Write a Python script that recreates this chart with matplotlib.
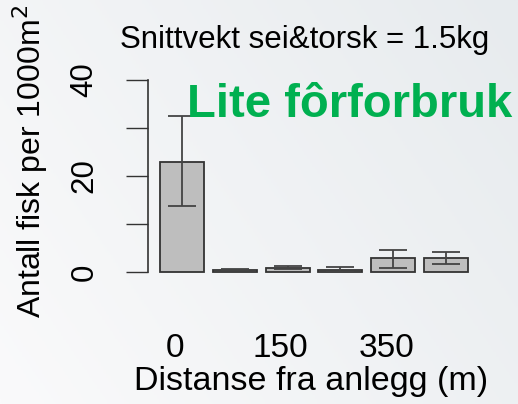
"""Bar chart: Antall fisk per 1000m2 vs distanse fra anlegg (lite fôrforbruk)."""
import numpy as np
import matplotlib
matplotlib.use("Agg")
import matplotlib.pyplot as plt
from matplotlib.colors import LinearSegmentedColormap

# data
means = [22.9, 0.5, 0.9, 0.5, 3.0, 3.0]
err_low = [9.15, 0.15, 0.3, 0.4, 2.2, 1.4]
err_high = [9.6, 0.15, 0.3, 0.45, 1.6, 1.1]
xtick_labels = ["0", "", "150", "", "350", ""]
yticks = [0, 10, 20, 30, 40]
ytick_labels = ["0", "", "20", "", "40"]

title = "Snittvekt sei&torsk = 1.5kg"
note = "Lite fôrforbruk"
xlabel = "Distanse fra anlegg (m)"
ylabel = "Antall fisk per 1000m$^2$"

W, H = 518, 404
plt.rcParams["font.family"] = ["Liberation Sans", "DejaVu Sans"]

fig = plt.figure(figsize=(W / 100, H / 100), dpi=100)

# light gradient background
bg = fig.add_axes([0, 0, 1, 1], zorder=-10)
gx, gy = np.meshgrid(np.linspace(0, 1, 200), np.linspace(0, 1, 200))
grad = 0.65 * gx + 0.35 * gy
cmap = LinearSegmentedColormap.from_list("bg", ["#fafafb", "#e7ebee"])
bg.imshow(grad, cmap=cmap, aspect="auto", extent=(0, 1, 0, 1), origin="lower")
bg.axis("off")


def px(x0, y0, x1, y1):
    return [x0 / W, 1 - y1 / H, (x1 - x0) / W, (y1 - y0) / H]


ax = fig.add_axes(px(148, 80, 480, 272))
ax.patch.set_alpha(0)

width = 1.0
x = 0.7 + 1.2 * np.arange(len(means))
ax.bar(x, means, width=width, color="#bebebe", edgecolor="#333333",
       linewidth=1.3, clip_on=False, zorder=2)
ax.errorbar(x, means, yerr=[err_low, err_high], fmt="none", ecolor="#444444",
            elinewidth=1.3, capsize=10, capthick=1.3, zorder=3)

ax.set_xlim(0.2 - 12 / 44, 0.2 + 320 / 44)
ax.set_ylim(0, 40)

for s in ["top", "right", "bottom"]:
    ax.spines[s].set_visible(False)
ax.spines["left"].set_color("#333333")
ax.spines["left"].set_linewidth(1.2)
ax.spines["left"].set_bounds(0, 40)

ax.set_yticks(yticks)
ax.set_yticklabels(ytick_labels, rotation=90, va="center", fontsize=22.5)
ax.tick_params(axis="y", length=16, width=1.0, color="#333333", pad=19)

ax.set_xticks(x - 0.16)
ax.set_xticklabels(xtick_labels, fontsize=24)
ax.tick_params(axis="x", length=0, pad=44)

fig.text(311 / W, 1 - 390 / H, xlabel, ha="center", va="baseline", fontsize=24.5)
fig.text(30 / W, 1 - 161 / H, ylabel, ha="center", va="center",
         rotation=90, fontsize=23)
fig.text(305 / W, 1 - 48 / H, title, ha="center", va="baseline", fontsize=22.5)
fig.text(187 / W, 1 - 117 / H, note, ha="left", va="baseline", fontsize=34,
         fontweight="bold", color="#00b050")

fig.savefig("out.png", dpi=100)
